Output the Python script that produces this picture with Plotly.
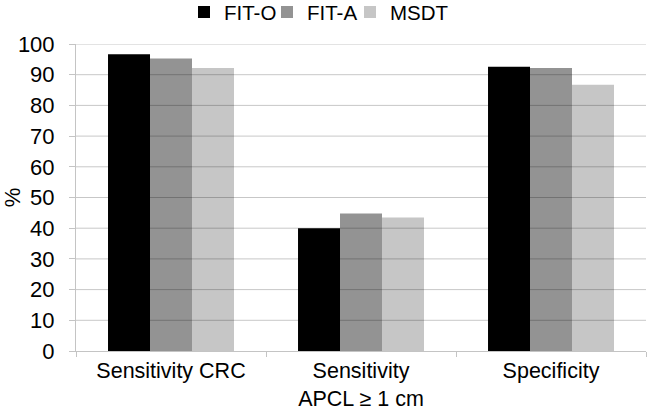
import plotly.graph_objects as go

categories = ["Sensitivity CRC", "Sensitivity<br>APCL ≥ 1 cm", "Specificity"]
series_names = ["FIT-O", "FIT-A", "MSDT"]
fit_o = [96.7, 40.0, 92.6]
fit_a = [95.3, 44.8, 92.2]
msdt = [92.2, 43.5, 86.7]
colors = ["#000000", "#939393", "#c6c6c6"]
y_ticks = [0, 10, 20, 30, 40, 50, 60, 70, 80, 90, 100]

font_family = "Liberation Sans, Arial, sans-serif"
legend_ids = ["legend", "legend2", "legend3"]
legend_x_px = [184, 267, 350]

fig = go.Figure()
for name, vals, col, lg in zip(series_names, [fit_o, fit_a, msdt], colors, legend_ids):
    fig.add_trace(go.Bar(name=name, x=categories, y=vals, legend=lg,
                         marker=dict(color=col, line=dict(width=0))))

# gridlines drawn above bars (as in the reference)
for t in y_ticks[1:]:
    fig.add_shape(type="line", xref="paper", yref="y", x0=0, x1=1, y0=t, y1=t,
                  line=dict(color="rgba(0,0,0,0.22)", width=1), layer="above")

W, H = 649, 408
legend_style = dict(orientation="h", xref="container", yref="container", xanchor="left",
                    y=0.97, yanchor="middle", font=dict(size=20.5), itemwidth=30,
                    bgcolor="rgba(0,0,0,0)")
legends = {lg: dict(legend_style, x=px / W) for lg, px in zip(legend_ids, legend_x_px)}

fig.update_layout(
    width=W, height=H,
    margin=dict(l=76, r=3, t=44, b=57, autoexpand=False),
    barmode="group", bargap=0.337, bargroupgap=0,
    plot_bgcolor="white", paper_bgcolor="white",
    font=dict(family=font_family, size=22, color="#000000"),
    showlegend=True,
    **legends,
)
fig.update_yaxes(range=[0, 100], tickvals=y_ticks, showgrid=False, zeroline=False,
                 showline=True, linecolor="#c4c4c4", linewidth=1,
                 ticks="outside", ticklen=6, tickcolor="#c4c4c4", ticklabelstandoff=10,
                 title=dict(text="%", font=dict(size=22), standoff=2))
fig.update_xaxes(showline=True, linecolor="#c4c4c4", linewidth=1,
                 ticks="outside", tickson="boundaries", ticklen=5, tickcolor="#c4c4c4",
                 tickfont=dict(size=21.5), showgrid=False)

fig.write_html("out.html", config={"displayModeBar": False},
               post_script="document.body.style.margin='0';document.body.style.padding='0';")
